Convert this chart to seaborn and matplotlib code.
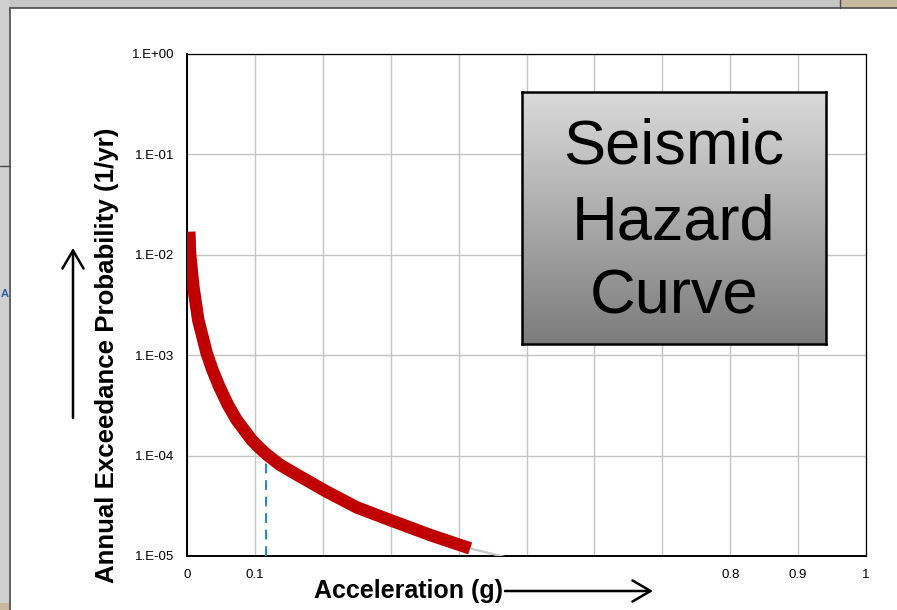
import matplotlib
matplotlib.use("Agg")
import numpy as np
import pandas as pd
import matplotlib.pyplot as plt
import seaborn as sns
from matplotlib.ticker import FixedLocator, MultipleLocator, LogLocator, FixedFormatter, NullFormatter
from matplotlib.patches import Rectangle, FancyArrowPatch
from matplotlib.lines import Line2D
from matplotlib.colors import LinearSegmentedColormap

# Seismic hazard curve: peak ground acceleration (g) vs annual exceedance rate
accel = [0.0034, 0.0044, 0.0093, 0.0166, 0.029, 0.0376, 0.0476, 0.0604,
         0.0732, 0.0953, 0.1075, 0.1174, 0.137, 0.1664, 0.205, 0.250, 0.299,
         0.358, 0.417]
annual_prob = [1.70e-2, 1.04e-2, 4.81e-3, 2.24e-3, 1.045e-3, 7.1e-4, 4.85e-4,
               3.19e-4, 2.26e-4, 1.43e-4, 1.18e-4, 1.026e-4, 8.09e-5, 6.2e-5,
               4.4e-5, 3.05e-5, 2.28e-5, 1.62e-5, 1.19e-5]

# mean branch partly hidden beneath the main curve
mean_accel = [0.030, 0.045, 0.060, 0.075]
mean_prob = [9.0e-4, 4.9e-4, 3.0e-4, 2.05e-4]

# faint tail of the curve past the last plotted point
tail_accel = [0.417, 0.470]
tail_prob = [1.19e-5, 9.7e-6]

# design level marker
design_pga = 0.116
design_rate = 1.0e-4

x_ticks = [0.0, 0.1, 0.2, 0.3, 0.4, 0.5, 0.6, 0.7, 0.8, 0.9, 1.0]
x_tick_labels = ["0", "0.1", "", "", "", "", "", "", "0.8", "0.9", "1"]
y_ticks = [1e-5, 1e-4, 1e-3, 1e-2, 1e-1, 1e0]
y_tick_labels = ["1.E-05", "1.E-04", "1.E-03", "1.E-02", "1.E-01", "1.E+00"]

sns.set_style("white")
plt.rcParams["font.family"] = ["Liberation Sans", "DejaVu Sans"]

W, H = 897, 610
def fx(px):
    return px / W
def fy(py):
    return 1 - py / H

fig = plt.figure(figsize=(W / 100, H / 100), dpi=100)
fig.patch.set_facecolor("white")

ax = fig.add_axes([fx(187), fy(556), 679 / W, 502 / H])
ax.set_facecolor("white")

curve = pd.DataFrame({"accel": accel, "prob": annual_prob})
mean_df = pd.DataFrame({"accel": mean_accel, "prob": mean_prob})
tail_df = pd.DataFrame({"accel": tail_accel, "prob": tail_prob})

sns.lineplot(data=tail_df, x="accel", y="prob", ax=ax, color="#c8c8c8",
             lw=1.6, zorder=3)
sns.lineplot(data=mean_df, x="accel", y="prob", ax=ax, color="#2f7fd6",
             lw=1.5, zorder=3)
sns.lineplot(data=curve, x="accel", y="prob", ax=ax, color="#c00000",
             lw=9, zorder=4, solid_capstyle="butt", solid_joinstyle="round")
ax.plot([design_pga, design_pga], [y_ticks[0], design_rate], color="#1f86d8",
        lw=1.4, ls=(0, (5, 3.5)), zorder=3)

ax.set_yscale("log")
ax.set_xlim(0, 1)
ax.set_ylim(1e-5, 1)
ax.set_xlabel("")
ax.set_ylabel("")

ax.xaxis.set_major_locator(FixedLocator(x_ticks))
ax.xaxis.set_major_formatter(FixedFormatter(x_tick_labels))
ax.xaxis.set_minor_locator(MultipleLocator(0.02))
ax.yaxis.set_major_locator(FixedLocator(y_ticks))
ax.yaxis.set_major_formatter(FixedFormatter(y_tick_labels))
ax.yaxis.set_minor_locator(LogLocator(base=10, subs=np.arange(2, 10), numticks=20))
ax.yaxis.set_minor_formatter(NullFormatter())

ax.grid(True, which="major", color="#c4c4c4", lw=1.0, zorder=0)
ax.grid(False, which="minor")
ax.tick_params(axis="both", which="major", direction="inout", length=8, width=1.0,
               color="black", labelsize=9.5, labelcolor="black")
ax.tick_params(axis="x", which="major", pad=5)
ax.tick_params(axis="y", which="major", pad=5)
ax.tick_params(axis="both", which="minor", direction="in", length=3.5, width=0.9,
               color="black")
for side in ["left", "bottom"]:
    ax.spines[side].set_color("black")
    ax.spines[side].set_linewidth(1.4)
for side in ["top", "right"]:
    ax.spines[side].set_color("black")
    ax.spines[side].set_linewidth(0.9)

# axis titles and direction arrows
fig.text(fx(107), fy(355), "Annual Exceedance Probability (1/yr)", rotation=90,
         ha="center", va="center", fontsize=18.6, fontweight="bold", color="black")
fig.text(fx(408), fy(598), "Acceleration (g)", ha="center", va="baseline",
         fontsize=18, fontweight="bold", color="black")
fig.add_artist(FancyArrowPatch((fx(73), fy(418)), (fx(73), fy(248)),
                               transform=fig.transFigure, shrinkA=0, shrinkB=0,
                               arrowstyle="->,head_length=0.65,head_width=0.38",
                               mutation_scale=20, lw=1.8, color="black"))
fig.add_artist(FancyArrowPatch((fx(505), fy(591)), (fx(653), fy(591)),
                               transform=fig.transFigure, shrinkA=0, shrinkB=0,
                               arrowstyle="->,head_length=0.65,head_width=0.38",
                               mutation_scale=20, lw=1.8, color="black"))

# title panel with vertical grey gradient
bax = fig.add_axes([fx(522), fy(344), 304 / W, 252 / H])
grey = LinearSegmentedColormap.from_list("panel", ["#7c7c7c", "#dadada"])
bax.imshow(np.linspace(0, 1, 256).reshape(-1, 1), cmap=grey, aspect="auto",
           extent=[0, 1, 0, 1], origin="lower")
bax.set_xticks([])
bax.set_yticks([])
for s in bax.spines.values():
    s.set_color("black")
    s.set_linewidth(1.8)
for word, yb in [("Seismic", 0.717), ("Hazard", 0.413), ("Curve", 0.123)]:
    bax.text(0.5, yb, word, ha="center", va="baseline", fontsize=45.5,
             color="black", transform=bax.transAxes)

# surrounding window frame
fig.add_artist(Rectangle((0, fy(8)), 1, 8 / H, transform=fig.transFigure,
                         facecolor="#c6c6c6", edgecolor="none", zorder=5))
fig.add_artist(Rectangle((fx(840), fy(8)), 57 / W, 8 / H, transform=fig.transFigure,
                         facecolor="#c8b89e", edgecolor="none", zorder=5))
fig.add_artist(Rectangle((0, 0), 10 / W, 1, transform=fig.transFigure,
                         facecolor="#cfcfcf", edgecolor="none", zorder=5))
fig.add_artist(Rectangle((0, 0), 10 / W, 7 / H, transform=fig.transFigure,
                         facecolor="#c8b89e", edgecolor="none", zorder=5))
fig.add_artist(Line2D([fx(10), 1], [fy(8), fy(8)], transform=fig.transFigure,
                      color="#4a4a4a", lw=1.2, zorder=6))
fig.add_artist(Line2D([fx(10), fx(10)], [0, fy(8)], transform=fig.transFigure,
                      color="#4a4a4a", lw=1.2, zorder=6))
fig.add_artist(Line2D([fx(840), fx(840)], [fy(8), 1], transform=fig.transFigure,
                      color="#4a4a4a", lw=1.0, zorder=6))
fig.add_artist(Line2D([0, fx(10)], [fy(166), fy(166)], transform=fig.transFigure,
                      color="#4a4a4a", lw=1.0, zorder=6))
fig.text(fx(0.5), fy(294), "A", ha="left", va="center", fontsize=8,
         fontweight="bold", color="#2e5f9e", zorder=7)

fig.savefig("out.png", dpi=100, facecolor="white")
